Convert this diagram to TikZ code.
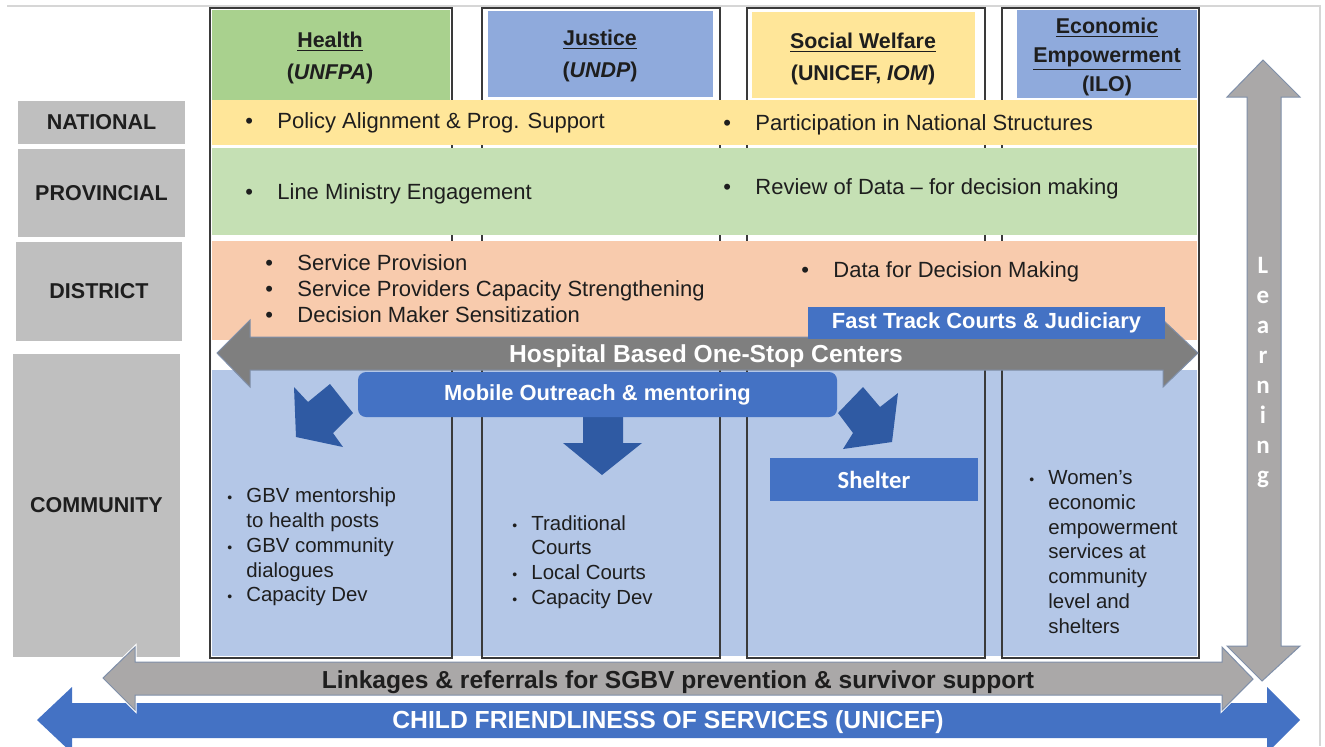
\documentclass[tikz,border=0pt]{standalone}
\usepackage{fontspec}
\setmainfont{Liberation Sans}
\newfontfamily\calfont{Carlito}
\usetikzlibrary{positioning}

\definecolor{lvlgray}{HTML}{BFBFBF}
\definecolor{hgreen}{HTML}{A9D18E}
\definecolor{pgreen}{HTML}{C5E0B4}
\definecolor{hblue}{HTML}{8FAADC}
\definecolor{hyellow}{HTML}{FFE699}
\definecolor{dpeach}{HTML}{F8CBAD}
\definecolor{cblue}{HTML}{B4C7E7}
\definecolor{boxblue}{HTML}{4472C4}
\definecolor{arrblue}{HTML}{2F5AA3}
\definecolor{darkarr}{HTML}{7F7F7F}
\definecolor{lightarr}{HTML}{AAA8A8}
\definecolor{slate}{HTML}{7F8FA9}
\definecolor{colline}{HTML}{3A3A3A}
\definecolor{txt}{HTML}{1E1E1E}
\definecolor{frame}{HTML}{D6D6D6}

\newcommand{\bandbul}{\makebox[16pt][l]{\textbullet}}
\newcommand{\combul}{\makebox[9.5pt][l]{\fontsize{7}{7}\selectfont\textbullet}}

\begin{document}
\begin{tikzpicture}[x=0.5pt,y=-0.5pt,
  lvl/.style={fill=lvlgray, inner sep=0, text=txt, font=\bfseries\fontsize{10.75}{12}\selectfont},
  hdr/.style={align=center, inner sep=0, text=txt, font=\bfseries\fontsize{10.7}{16}\selectfont},
  bandtxt/.style={anchor=west, inner sep=0, align=left, text=txt, font=\fontsize{11}{13}\selectfont},
  comtxt/.style={anchor=west, inner sep=0, align=left, text=txt, font=\fontsize{10.2}{12.4}\selectfont},
  bluebox/.style={fill=boxblue, inner sep=0, text=white, font=\bfseries\fontsize{10.95}{12}\selectfont},
  col/.style={draw=colline, line width=1pt},
  outl/.style={draw=slate, line width=0.5pt}]
\useasboundingbox (0,0) rectangle (1325,746);
\clip (0,0) rectangle (1325,746);
%
\draw[frame, line width=0.8pt] (7,6) -- (1320,6) -- (1320,746);
%
% level labels
\node[lvl, minimum width=83.5pt, minimum height=21.5pt] (national) at (101.5,122.5) {NATIONAL};
\node[lvl, minimum width=83.5pt, minimum height=44pt] (provincial) at (101.5,193) {PROVINCIAL};
\node[lvl, minimum width=83pt, minimum height=49.5pt] (district) at (99,291.5) {DISTRICT};
\node[lvl, minimum width=83.5pt, minimum height=151.5pt] (community) at (96.5,505.5) {COMMUNITY};
%
% community background and columns
\fill[cblue] (212,370) rectangle (1197,656);
\draw[col] (210,8) rectangle (452,658);
\draw[col] (482,8) rectangle (720,658);
\draw[col] (747,8) rectangle (985,658);
\draw[col] (1002,8) rectangle (1199,658);
\fill[hgreen] (212,10) rectangle (450,100);
\fill[hblue] (488,11) rectangle (713,97);
\fill[hyellow] (752,12) rectangle (975,98);
\fill[hblue] (1017,10) rectangle (1197,98);
%
% bands
\fill[hyellow] (212,100) rectangle (1197,145);
\fill[pgreen] (212,148) rectangle (1197,235);
\fill[dpeach] (212,241) rectangle (1197,340);
%
\node[hdr] (health) at (330,58) {\underline{Health}\\(\textit{UNFPA})};
\node[hdr] (justice) at (600,56) {\underline{Justice}\\(\textit{UNDP})};
\node[hdr] (welfare) at (863,59) {\underline{Social Welfare}\\(UNICEF, \textit{IOM})};
\node[hdr, font=\bfseries\fontsize{10.7}{14.5}\selectfont] (econ) at (1107,57) {\underline{Economic}\\\underline{Empowerment}\\(ILO)};
%
\node[bandtxt] (natl1) at (245,123) {\bandbul Policy Alignment \& Prog. Support};
\node[bandtxt] (natl2) at (723,125) {\bandbul Participation in National Structures};
\node[bandtxt] (prov1) at (245,194) {\bandbul Line Ministry Engagement};
\node[bandtxt] (prov2) at (723,189) {\bandbul Review of Data -- for decision making};
\node[bandtxt] (dist1) at (265,289) {\bandbul Service Provision\\\bandbul Service Providers Capacity Strengthening\\\bandbul Decision Maker Sensitization};
\node[bandtxt] (dist2) at (801,272) {\bandbul Data for Decision Making};
%
% hospital arrow
\fill[darkarr, outl] (217,353) -- (250,320) -- (250,337) -- (1163,337) -- (1163,320)
  -- (1198,353) -- (1163,387) -- (1163,370) -- (250,370) -- (250,387) -- cycle;
\node[inner sep=0, text=white, font=\bfseries\fontsize{12.3}{14}\selectfont] (hospital) at (706,356) {Hospital Based One-Stop Centers};
\node[bluebox, minimum width=178.5pt, minimum height=16pt] (fasttrack) at (986.5,323) {Fast Track Courts \& Judiciary};
%
% outreach and its arrows
\fill[arrblue] (294,387) -- (296,437) -- (343,447) -- (333,433) -- (353,413) -- (330,384) -- (308,402) -- cycle;
\fill[arrblue] (583,416) -- (623,416) -- (623,443) -- (642,443) -- (602,475) -- (563,443) -- (583,443) -- cycle;
\fill[arrblue] (838,413) -- (863,387) -- (880,407) -- (898,393) -- (892,442) -- (843,449) -- (853,433) -- cycle;
\node[bluebox, rounded corners=4pt, minimum width=239.5pt, minimum height=22.5pt] (outreach) at (597.5,394.5) {Mobile Outreach \& mentoring};
\node[bluebox, minimum width=104pt, minimum height=21.5pt, font=\calfont\bfseries\fontsize{12.3}{14}\selectfont] (shelter) at (874,479.5) {Shelter};
%
\node[comtxt] (comhealth) at (227,547) {\combul GBV mentorship\\\hspace*{9.5pt}to health posts\\\combul GBV community\\\hspace*{9.5pt}dialogues\\\combul Capacity Dev};
\node[comtxt] (comjustice) at (512,562) {\combul Traditional\\\hspace*{9.5pt}Courts\\\combul Local Courts\\\combul Capacity Dev};
\node[comtxt] (comecon) at (1029,552) {\combul Women's\\\hspace*{9.5pt}economic\\\hspace*{9.5pt}empowerment\\\hspace*{9.5pt}services at\\\hspace*{9.5pt}community\\\hspace*{9.5pt}level and\\\hspace*{9.5pt}shelters};
%
% bottom arrows
\fill[boxblue] (37,720) -- (72,687) -- (72,703) -- (1267,703) -- (1267,687) -- (1300,720)
  -- (1267,753) -- (1267,738) -- (72,738) -- (72,753) -- cycle;
\draw[white, line width=1.5pt] (103,678) -- (135,647) -- (135,662) -- (1222,662) -- (1222,647) -- (1253,679)
  -- (1222,710) -- (1222,695) -- (135,695) -- (135,710) -- cycle;
\fill[lightarr, outl] (103,678) -- (135,647) -- (135,662) -- (1222,662) -- (1222,647) -- (1253,679)
  -- (1222,710) -- (1222,695) -- (135,695) -- (135,710) -- cycle;
\node[inner sep=0, text=txt, font=\bfseries\fontsize{12.3}{14}\selectfont] (linkages) at (678,682) {Linkages \& referrals for SGBV prevention \& survivor support};
\node[inner sep=0, text=white, font=\bfseries\fontsize{12.35}{14}\selectfont] (childfr) at (668,722) {CHILD FRIENDLINESS OF SERVICES (UNICEF)};
%
% learning arrow
\draw[white, line width=1.5pt] (1263,60) -- (1300,97) -- (1281,97) -- (1281,646) -- (1300,646) -- (1262,681)
  -- (1227,646) -- (1247,646) -- (1247,97) -- (1227,97) -- cycle;
\fill[lightarr, outl] (1263,60) -- (1300,97) -- (1281,97) -- (1281,646) -- (1300,646) -- (1262,681)
  -- (1227,646) -- (1247,646) -- (1247,97) -- (1227,97) -- cycle;
\node[align=center, inner sep=0, text=white, font=\calfont\bfseries\fontsize{12.5}{15}\selectfont] (learning) at (1263,372) {L\\e\\a\\r\\n\\i\\n\\g};
\end{tikzpicture}
\end{document}
